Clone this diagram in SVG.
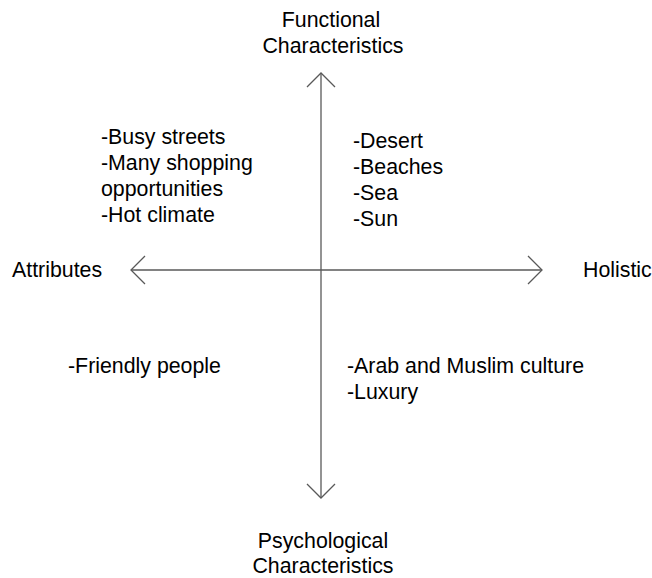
<svg xmlns="http://www.w3.org/2000/svg" width="652" height="578" viewBox="0 0 652 578">
<style>
text{font-family:"Liberation Sans",Arial,sans-serif;font-size:21.33px;fill:#000}
.c{text-anchor:middle}
.ax{stroke:#595959;stroke-width:1.3;fill:none}
</style>
<defs>
<marker id="ah" viewBox="-16 -16 18 32" markerWidth="18" markerHeight="32" refX="0" refY="0" orient="auto" markerUnits="userSpaceOnUse">
<path d="M-14,-14 L0,0 L-14,14" fill="none" stroke="#595959" stroke-width="1.3"/>
</marker>
</defs>
<rect width="652" height="578" fill="#fff"/>
<g id="connectors">
<line class="ax" x1="321" y1="270" x2="321" y2="73" marker-end="url(#ah)"/>
<line class="ax" x1="321" y1="270" x2="321" y2="498" marker-end="url(#ah)"/>
<line class="ax" x1="321" y1="270" x2="131" y2="270" marker-end="url(#ah)"/>
<line class="ax" x1="321" y1="270" x2="542" y2="270" marker-end="url(#ah)"/>
</g>
<g id="functional"><text class="c" x="331" y="27">Functional</text><text class="c" x="333" y="53">Characteristics</text></g>
<g id="psychological"><text class="c" x="323" y="548">Psychological</text><text class="c" x="323" y="573">Characteristics</text></g>
<g id="attributes"><text x="12" y="277">Attributes</text></g>
<g id="holistic"><text x="583" y="277">Holistic</text></g>
<g id="q-top-left"><text x="101" y="144">-Busy streets</text><text x="101" y="170">-Many shopping</text><text x="101" y="196">opportunities</text><text x="101" y="222">-Hot climate</text></g>
<g id="q-top-right"><text x="353" y="148">-Desert</text><text x="353" y="174">-Beaches</text><text x="353" y="200">-Sea</text><text x="353" y="226">-Sun</text></g>
<g id="q-bottom-left"><text x="68" y="373">-Friendly people</text></g>
<g id="q-bottom-right"><text x="347" y="373">-Arab and Muslim culture</text><text x="347" y="399">-Luxury</text></g>
</svg>
